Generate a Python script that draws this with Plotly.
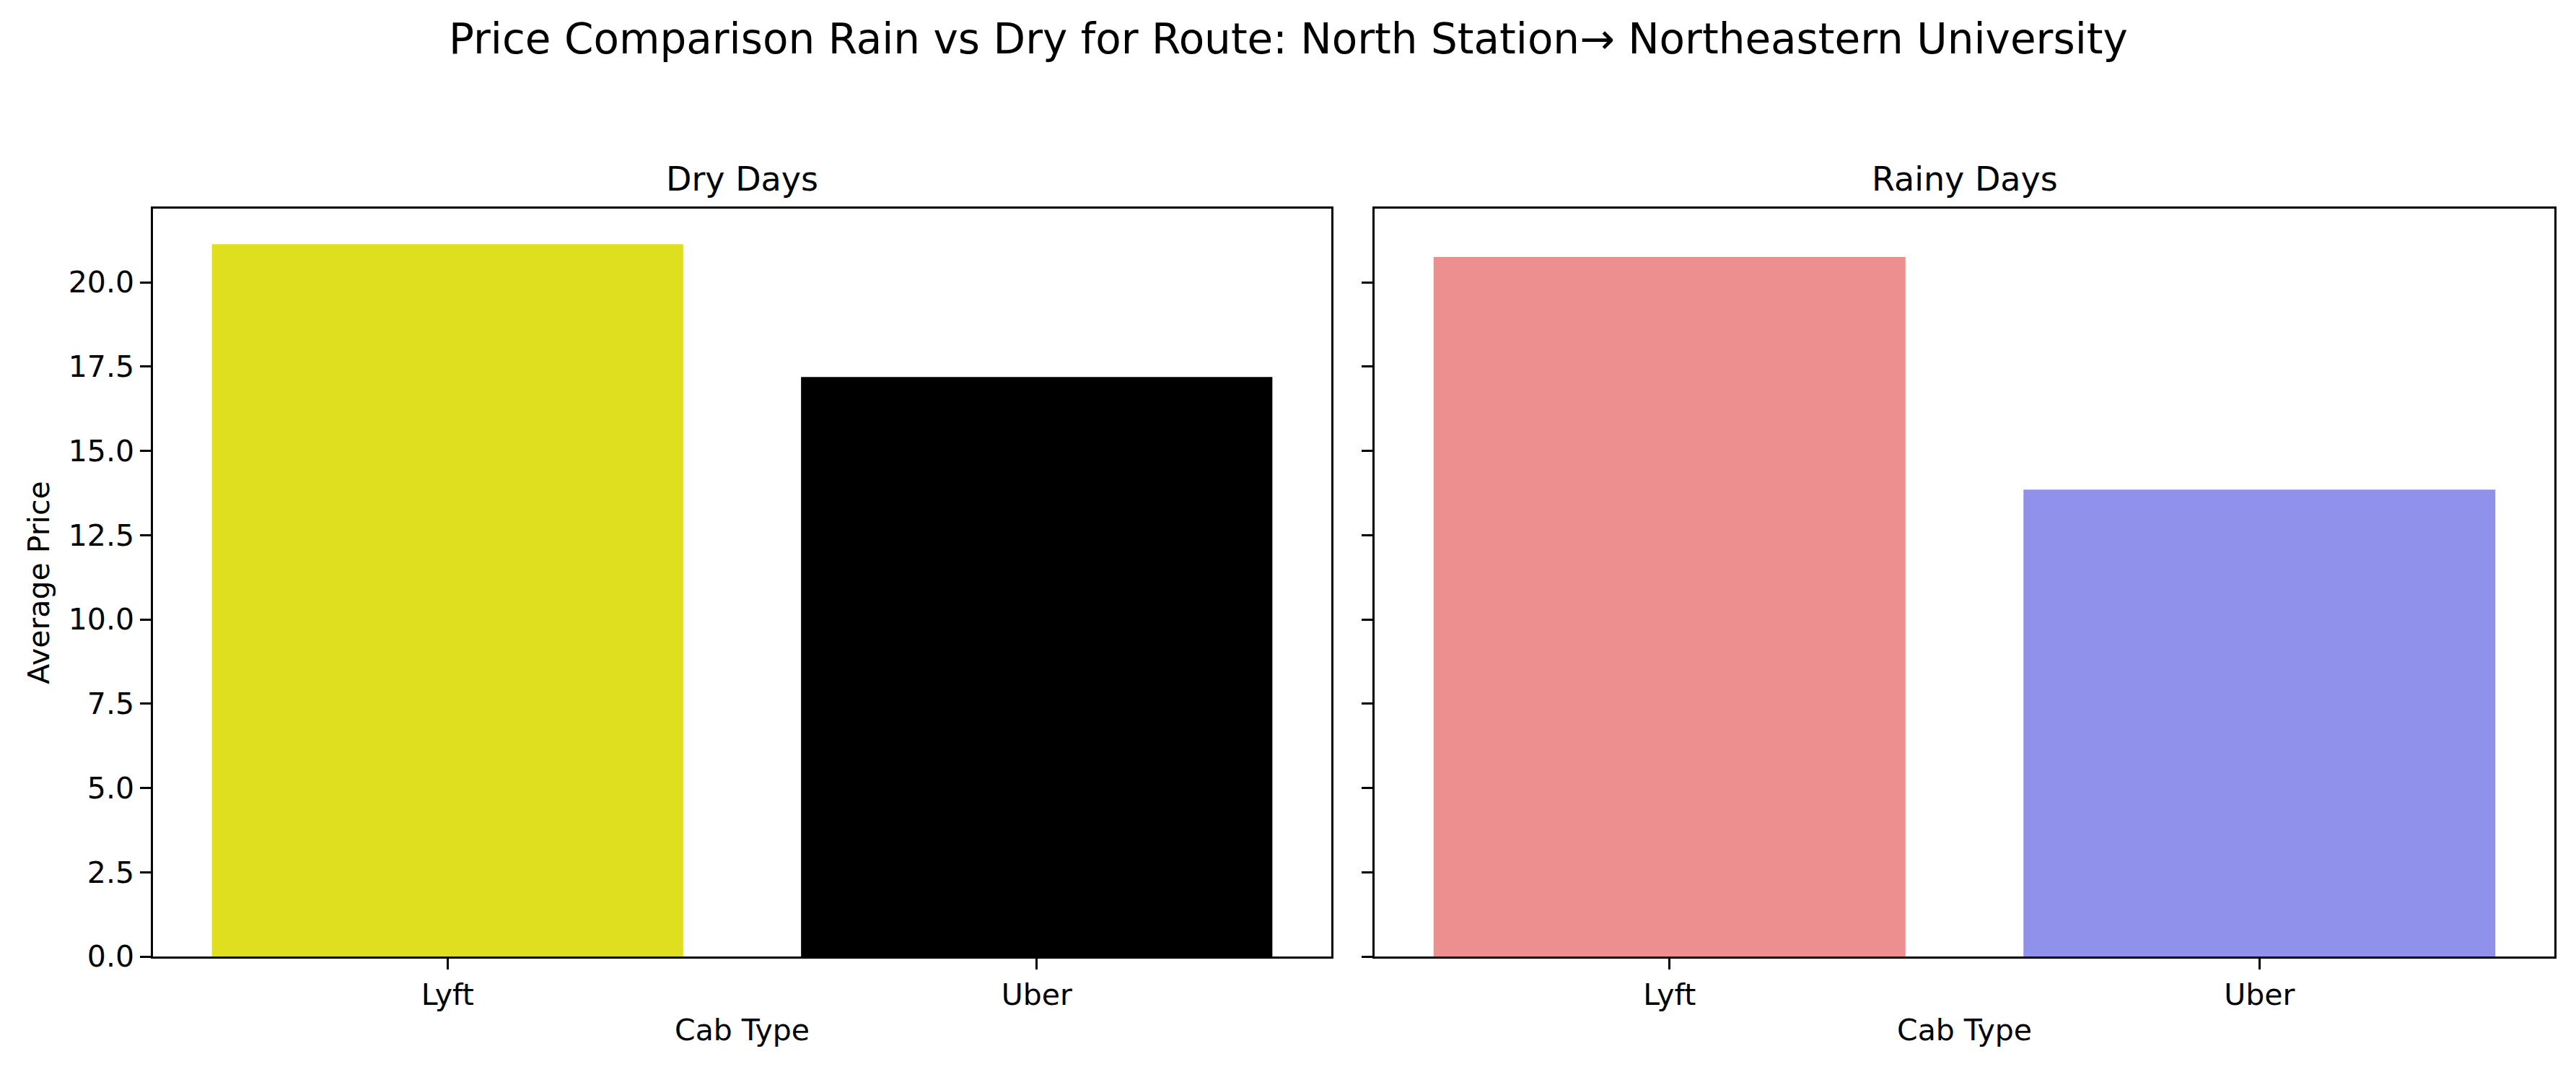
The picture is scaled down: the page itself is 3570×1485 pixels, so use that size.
import plotly.graph_objects as go
from plotly.subplots import make_subplots

cab_types = ["Lyft", "Uber"]
dry_prices = [21.13, 17.19]
rainy_prices = [20.75, 13.85]
dry_colors = ["#DFDF20", "#000000"]
rainy_colors = ["#ED8F8F", "#8F91EB"]
y_ticks = [0.0, 2.5, 5.0, 7.5, 10.0, 12.5, 15.0, 17.5, 20.0]

W, H = 3570, 1485
L, R, T, B = 212, 30, 289, 160
plot_w = W - L - R
plot_h = H - T - B

FONT = "DejaVu Sans"

fig = make_subplots(rows=1, cols=2, shared_yaxes=True)
fig.add_trace(go.Bar(x=cab_types, y=dry_prices, marker=dict(color=dry_colors, line=dict(width=0)),
                     width=0.8, showlegend=False), row=1, col=1)
fig.add_trace(go.Bar(x=cab_types, y=rainy_prices, marker=dict(color=rainy_colors, line=dict(width=0)),
                     width=0.8, showlegend=False), row=1, col=2)

x1_dom = [0, (1845 - L) / plot_w]
x2_dom = [(1905 - L) / plot_w, 1]

ymax = max(dry_prices + rainy_prices) * 1.05

axis_common = dict(showline=True, linecolor="black", linewidth=3.3, mirror=True,
                   ticks="outside", ticklen=14.6, tickwidth=3.3, tickcolor="black",
                   showgrid=False, zeroline=False,
                   tickfont=dict(family=FONT, size=41, color="black"))

fig.update_layout(
    width=W, height=H,
    margin=dict(l=L, r=R, t=T, b=B, autoexpand=False),
    plot_bgcolor="white", paper_bgcolor="white",
    bargap=0.2,
    font=dict(family=FONT, color="black"),
    xaxis=dict(domain=x1_dom, range=[-0.5, 1.5], **axis_common,
               title=dict(text="Cab Type", font=dict(family=FONT, size=41, color="black"), standoff=12)),
    xaxis2=dict(domain=x2_dom, range=[-0.5, 1.5], **axis_common,
                title=dict(text="Cab Type", font=dict(family=FONT, size=41, color="black"), standoff=12)),
    yaxis=dict(range=[0, ymax], tickvals=y_ticks, ticktext=[f"{v:.1f}" for v in y_ticks],
               **axis_common,
               title=dict(text="Average Price", font=dict(family=FONT, size=41, color="black"), standoff=14)),
    yaxis2=dict(range=[0, ymax], tickvals=y_ticks, showticklabels=False, matches="y", **axis_common),
)

annotations = [
    dict(text="Price Comparison Rain vs Dry for Route: North Station\u2192 Northeastern University",
         xref="paper", yref="paper", x=(W / 2 - L) / plot_w, y=1 + (T - 54) / plot_h,
         xanchor="center", yanchor="middle", showarrow=False,
         font=dict(family=FONT, size=58, color="black")),
    dict(text="Dry Days", xref="paper", yref="paper",
         x=(x1_dom[0] + x1_dom[1]) / 2, y=1 + (T - 248) / plot_h,
         xanchor="center", yanchor="middle", showarrow=False,
         font=dict(family=FONT, size=46, color="black")),
    dict(text="Rainy Days", xref="paper", yref="paper",
         x=(x2_dom[0] + x2_dom[1]) / 2, y=1 + (T - 248) / plot_h,
         xanchor="center", yanchor="middle", showarrow=False,
         font=dict(family=FONT, size=46, color="black")),
]
fig.update_layout(annotations=annotations)

fig.write_html("out.html")
